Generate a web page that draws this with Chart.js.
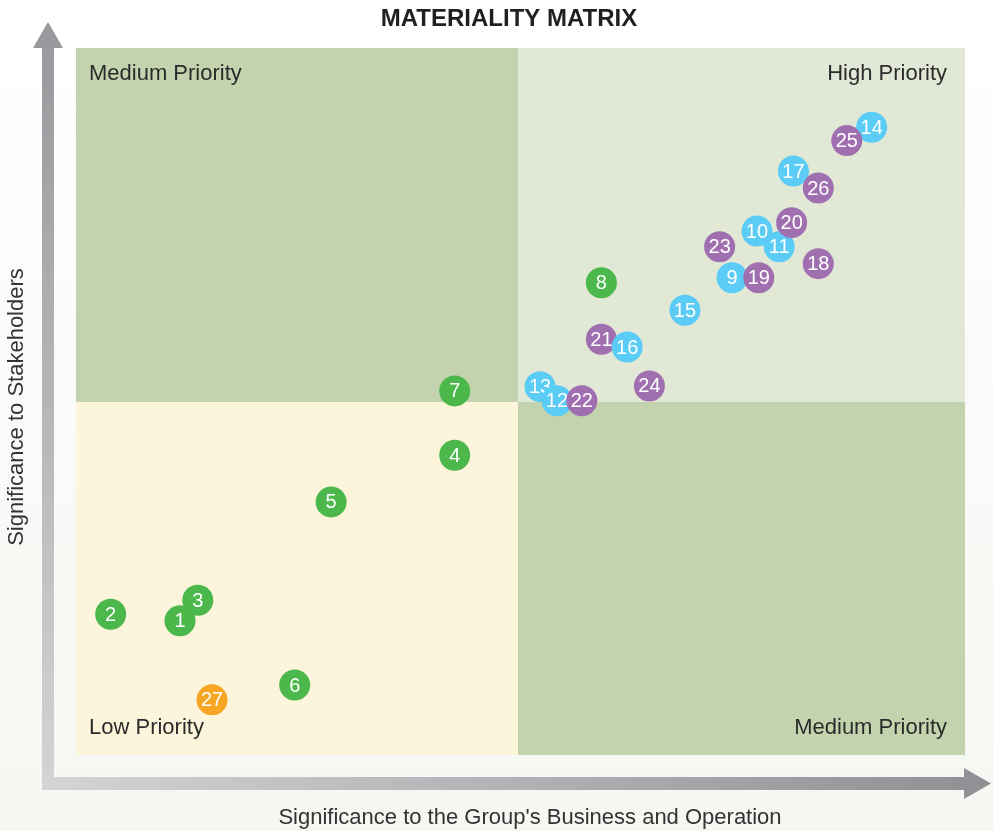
<!DOCTYPE html>
<html>
<head>
<meta charset="utf-8">
<script src="https://cdn.jsdelivr.net/npm/chart.js@4"></script>
<style>
  html, body { margin: 0; padding: 0; background: #f7f8f4; }
  #wrap { width: 993px; height: 831px; }
</style>
</head>
<body>
<div id="wrap"><canvas id="myChart"></canvas></div>
<script>
// issues, listed in drawing order (later ones sit on top)
const issueIds = [3, 1, 2, 4, 5, 6, 7, 8, 13, 12, 22, 21, 16, 9, 19, 10, 11, 20, 23, 15, 24, 17, 26, 18, 14, 25, 27];
const businessScore = [13.7, 11.7, 3.9, 42.6, 28.7, 24.6, 42.6, 59.1, 52.2, 54.1, 56.9, 59.1, 62.0, 73.8, 76.8, 76.6, 79.1, 80.5, 72.4, 68.5, 64.5, 80.7, 83.5, 83.5, 89.5, 86.7, 15.3];
const stakeholderScore = [21.9, 19.0, 19.9, 42.4, 35.8, 9.9, 51.5, 66.8, 52.1, 50.1, 50.1, 58.8, 57.7, 67.5, 67.5, 74.1, 71.9, 75.3, 71.9, 62.9, 52.2, 82.6, 80.2, 69.5, 88.8, 86.9, 7.8];
const issueGroup = ['green', 'green', 'green', 'green', 'green', 'green', 'green', 'green', 'blue', 'blue', 'purple', 'purple', 'blue', 'blue', 'purple', 'blue', 'blue', 'purple', 'purple', 'blue', 'purple', 'blue', 'purple', 'purple', 'blue', 'purple', 'orange'];

// where the matrix is split into quadrants
const splitX = 49.7;
const splitY = 50;

const quadrantLabels = ['Medium Priority', 'High Priority', 'Low Priority', 'Medium Priority'];
const chartTitle = 'MATERIALITY MATRIX';
const xAxisTitle = "Significance to the Group's Business and Operation";
const yAxisTitle = 'Significance to Stakeholders';

const groupColors = { green: '#4cb84b', blue: '#5bccf6', purple: '#a06fb0', orange: '#f6a623' };
const FONT = '"Liberation Sans", Arial, sans-serif';

// one dataset per bubble so each label is painted right after its own circle
const datasets = issueIds.map((id, i) => ({
  label: String(id),
  data: [{ x: businessScore[i], y: stakeholderScore[i] }],
  backgroundColor: groupColors[issueGroup[i]],
  borderWidth: 0,
  pointRadius: 15.5,
  pointHoverRadius: 15.5,
  order: issueIds.length - i
}));

const matrixPlugin = {
  id: 'matrix',
  beforeDraw(chart) {
    const { ctx, chartArea: a, scales } = chart;
    const midX = Math.round(scales.x.getPixelForValue(splitX));
    const midY = Math.round(scales.y.getPixelForValue(splitY));
    ctx.save();
    // background
    const bg = ctx.createLinearGradient(0, 0, 0, chart.height);
    bg.addColorStop(0, '#ffffff');
    bg.addColorStop(1, '#f5f7f2');
    ctx.fillStyle = bg;
    ctx.fillRect(0, 0, chart.width, chart.height);
    // quadrants
    ctx.fillStyle = '#c2d3ae';
    ctx.fillRect(a.left, a.top, midX - a.left, midY - a.top);
    ctx.fillStyle = '#e2e8d6';
    ctx.fillRect(midX, a.top, a.right - midX, midY - a.top);
    ctx.fillStyle = '#fcf5dc';
    ctx.fillRect(a.left, midY, midX - a.left, a.bottom - midY);
    ctx.fillStyle = '#c2d3ae';
    ctx.fillRect(midX, midY, a.right - midX, a.bottom - midY);

    // quadrant labels
    ctx.fillStyle = '#2b2b2b';
    ctx.font = '22px ' + FONT;
    ctx.textBaseline = 'middle';
    ctx.textAlign = 'left';
    ctx.fillText(quadrantLabels[0], a.left + 13, a.top + 26);
    ctx.fillText(quadrantLabels[2], a.left + 13, a.bottom - 27);
    ctx.textAlign = 'right';
    ctx.fillText(quadrantLabels[1], a.right - 18, a.top + 26);
    ctx.fillText(quadrantLabels[3], a.right - 18, a.bottom - 27);

    // vertical arrow
    let g = ctx.createLinearGradient(0, 790, 0, 22);
    g.addColorStop(0, '#d3d4d6');
    g.addColorStop(1, '#97989b');
    ctx.fillStyle = g;
    ctx.fillRect(42, 47, 12, 743);
    ctx.beginPath();
    ctx.moveTo(33, 48);
    ctx.lineTo(48, 22);
    ctx.lineTo(63, 48);
    ctx.closePath();
    ctx.fill();

    // horizontal arrow
    g = ctx.createLinearGradient(42, 0, 990, 0);
    g.addColorStop(0, '#d3d4d6');
    g.addColorStop(1, '#8f9094');
    ctx.fillStyle = g;
    ctx.fillRect(42, 777, 923, 13);
    ctx.beginPath();
    ctx.moveTo(964, 768);
    ctx.lineTo(991, 783.5);
    ctx.lineTo(964, 799);
    ctx.closePath();
    ctx.fill();

    // title and axis titles
    ctx.fillStyle = '#231f20';
    ctx.textAlign = 'center';
    ctx.font = 'bold 24px ' + FONT;
    ctx.fillText(chartTitle, 509, 19);
    ctx.fillStyle = '#333333';
    ctx.font = '22px ' + FONT;
    ctx.fillText(xAxisTitle, 530, 818);
    ctx.translate(17, 407);
    ctx.rotate(-Math.PI / 2);
    ctx.fillText(yAxisTitle, 0, 0);
    ctx.restore();
  },
  afterDatasetDraw(chart, args) {
    const pt = args.meta.data[0];
    if (!pt) return;
    const { ctx } = chart;
    ctx.save();
    ctx.fillStyle = '#ffffff';
    ctx.font = '20px ' + FONT;
    ctx.textAlign = 'center';
    ctx.textBaseline = 'middle';
    ctx.fillText(chart.data.datasets[args.index].label, pt.x, pt.y + 1);
    ctx.restore();
  }
};

new Chart(document.getElementById('myChart'), {
  type: 'scatter',
  data: { datasets },
  options: {
    responsive: true,
    maintainAspectRatio: false,
    animation: false,
    layout: { padding: { left: 76, right: 28, top: 48, bottom: 76 } },
    plugins: {
      legend: { display: false },
      tooltip: { enabled: false }
    },
    scales: {
      x: { min: 0, max: 100, display: false },
      y: { min: 0, max: 100, display: false }
    }
  },
  plugins: [matrixPlugin]
});
</script>
</body>
</html>
